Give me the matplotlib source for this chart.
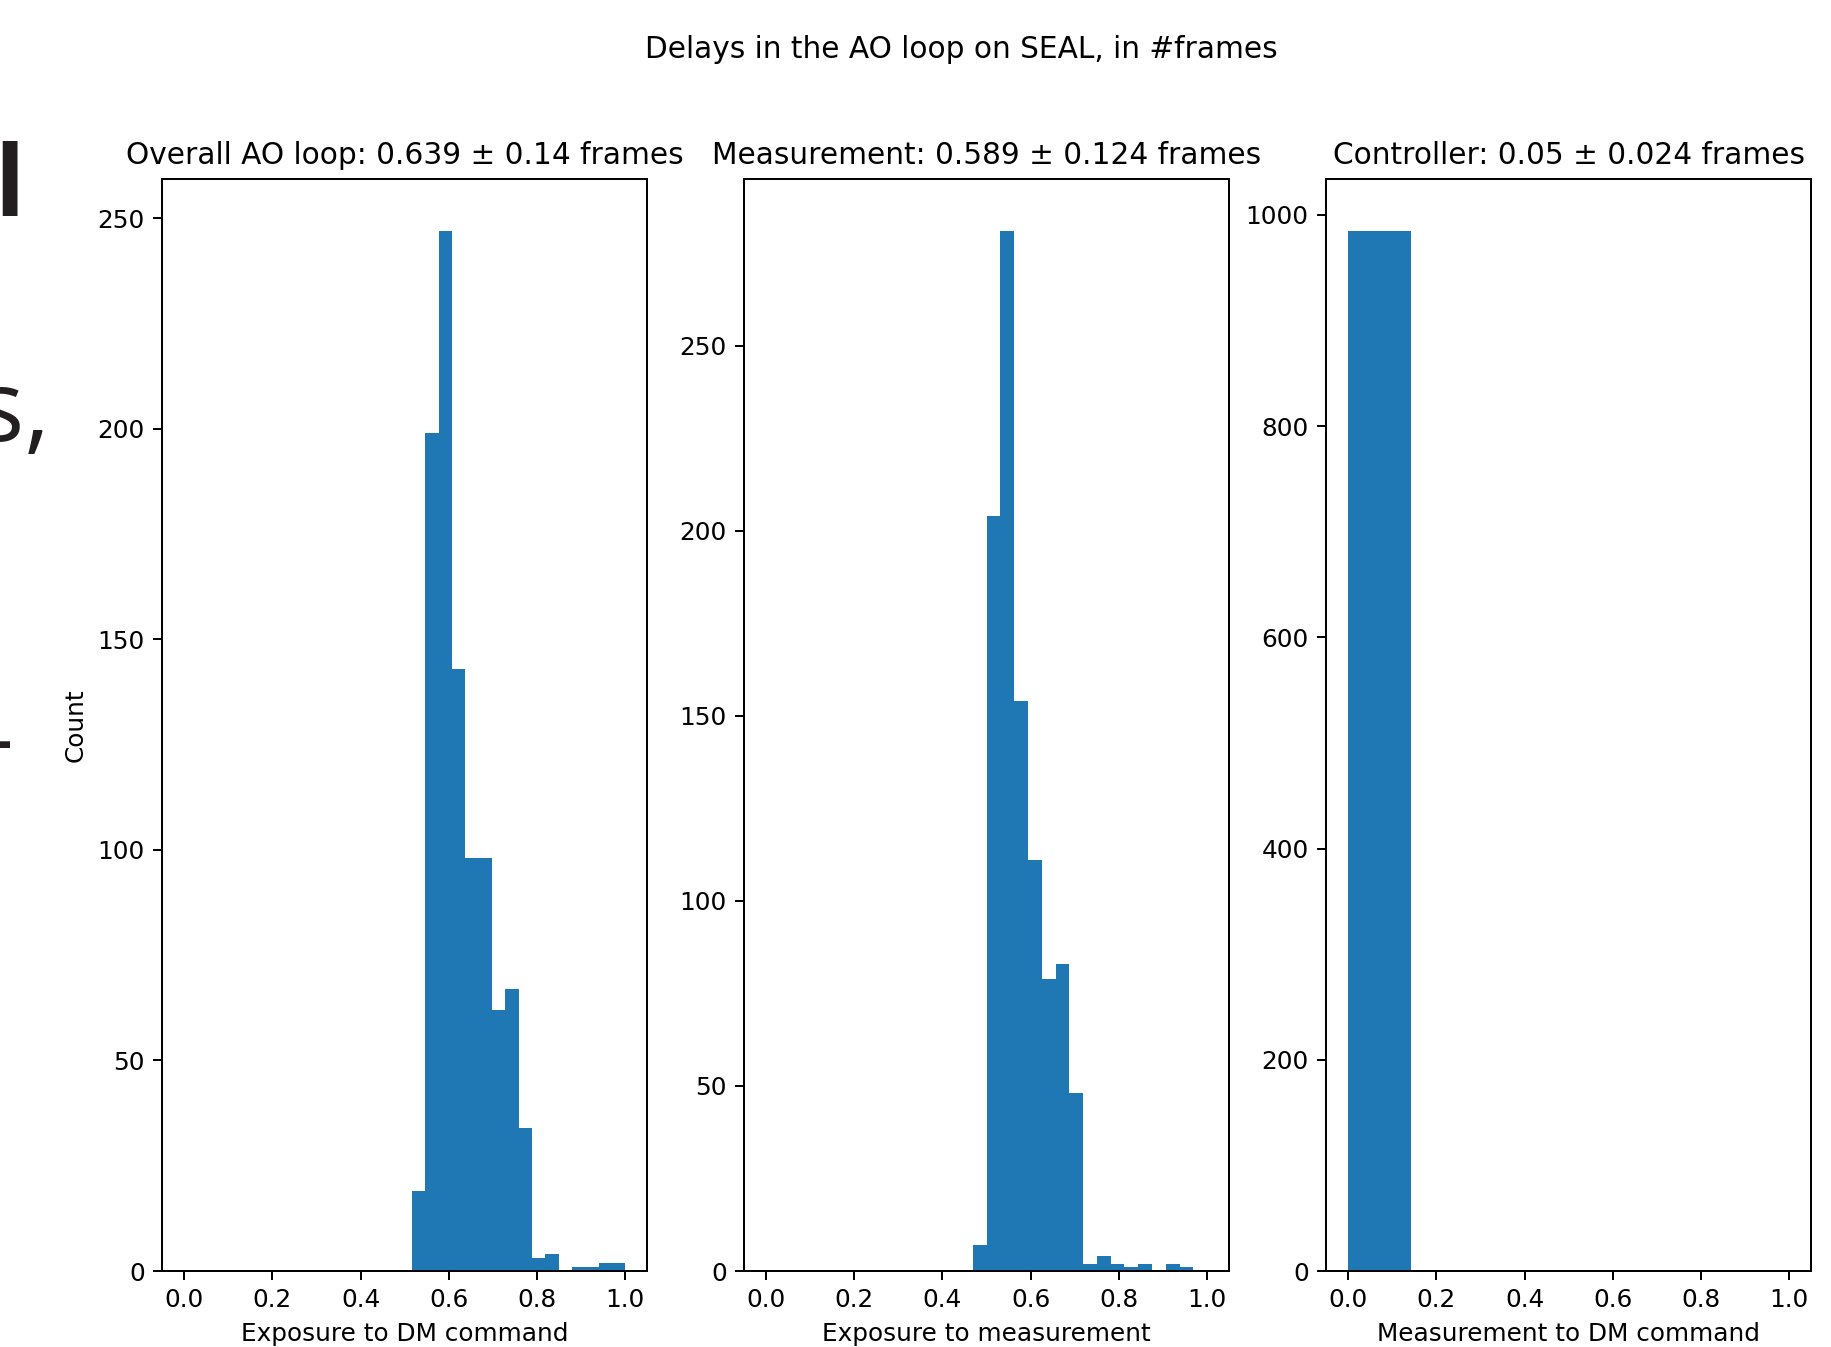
import numpy as np
import matplotlib
matplotlib.use('Agg')
import matplotlib.pyplot as plt

# Histogram counts (16 bins each for the first two panels)
loop_lo, loop_hi = 0.5166, 1.0
loop_counts = [19, 199, 247, 143, 98, 98, 62, 67, 34, 3, 4, 0, 1, 1, 2, 2]

meas_lo, meas_hi = 0.469, 0.969
meas_counts = [7, 204, 281, 154, 111, 79, 83, 48, 2, 4, 2, 1, 2, 0, 2, 1]

ctrl_lo, ctrl_hi = 0.0, 1.0
ctrl_counts = [985, 0, 0, 0, 0, 0, 0]

titles = ['Overall AO loop: 0.639 \u00b1 0.14 frames',
          'Measurement: 0.589 \u00b1 0.124 frames',
          'Controller: 0.05 \u00b1 0.024 frames']
xlabels = ['Exposure to DM command', 'Exposure to measurement', 'Measurement to DM command']

panels = [(loop_lo, loop_hi, loop_counts),
          (meas_lo, meas_hi, meas_counts),
          (ctrl_lo, ctrl_hi, ctrl_counts)]

dpi = 178
fig = plt.figure(figsize=(1831 / dpi, 1347 / dpi), dpi=dpi)

lefts = [0.0885, 0.4063, 0.7242]
for i, (lo, hi, counts) in enumerate(panels):
    ax = fig.add_axes([lefts[i], 0.0564, 0.2650, 0.8109])
    edges = np.linspace(lo, hi, len(counts) + 1)
    ax.hist(edges[:-1], bins=edges, weights=counts, color='#1f77b4')
    ax.set_xlim(-0.05, 1.05)
    ax.set_xticks([0.0, 0.2, 0.4, 0.6, 0.8, 1.0])
    ax.set_title(titles[i])
    ax.set_xlabel(xlabels[i])
    if i == 0:
        ax.set_ylabel('Count')

fig.text(0.5248, 0.9629, 'Delays in the AO loop on SEAL, in #frames',
         ha='center', va='center', fontsize=12)

# cropped slide text on the left edge of the screenshot
slide_kw = dict(fontsize=40, family='Open Sans', color='#231f20')
fig.text(24 / 1831, 1 - 216 / 1347, 'l', ha='right', va='baseline',
         weight='bold', **slide_kw)
fig.text(50 / 1831, 1 - 441 / 1347, 's,', ha='right', va='baseline', **slide_kw)
fig.text(14 / 1831, 1 - 745 / 1347, '-', ha='right', va='center', **slide_kw)

fig.savefig('out.png', dpi=dpi)
